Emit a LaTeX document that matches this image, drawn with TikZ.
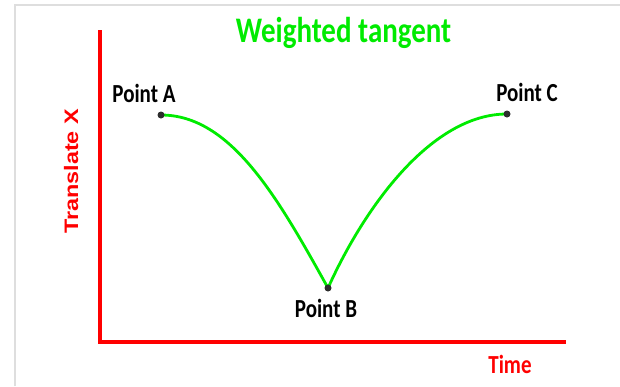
\documentclass[tikz,border=0pt]{standalone}
\usepackage{fontspec}
\setmainfont{Carlito}
\newfontfamily\axfont{Liberation Sans}
\definecolor{curvegreen}{RGB}{0,235,0}
\definecolor{axisred}{RGB}{255,0,0}
\definecolor{dotgray}{RGB}{45,45,45}
\definecolor{framegray}{RGB}{222,222,222}
\newcommand{\tall}[1]{\scalebox{1}[1.24]{#1}}

\begin{document}
\begin{tikzpicture}[x=1pt,y=-1pt,
  ptdot/.style={circle,fill=dotgray,inner sep=0pt,minimum size=7pt},
  ptlabel/.style={anchor=base,inner sep=0pt,font=\bfseries\fontsize{21}{21}\selectfont},
  axisline/.style={axisred,line width=4.5pt},
  tangentline/.style={curvegreen,line width=2.8pt}]
\useasboundingbox (0,0) rectangle (620,386);
\draw[framegray,line width=1.5pt] (15,386) -- (15,5) -- (620,5);

\node[ptlabel,text=curvegreen,font=\bfseries\fontsize{29}{29}\selectfont] (title) at (343.5,42) {\tall{Weighted tangent}};

% axes
\coordinate (ytop) at (100,30);
\coordinate (orig) at (100,342);
\coordinate (xend) at (566,342);
\draw[axisline] (ytop) -- (orig) -- (xend);

\node[rotate=90,anchor=base,inner sep=0pt,text=axisred,font=\axfont\bfseries\fontsize{19.5}{19.5}\selectfont] (transx) at (78,171.5) {\scalebox{1.2}[1]{Translate X}};
\node[ptlabel,text=axisred] (time) at (510,373) {\tall{Time}};

% weighted curve
\coordinate (a) at (161,115);
\coordinate (b) at (328,288);
\coordinate (c) at (507,114);
\draw[tangentline] (a) .. controls (231,115) and (278,198) .. (b)
  .. controls (365,206) and (432,114) .. (c);

\node[ptdot] (dotA) at (a) {};
\node[ptdot] (dotB) at (b) {};
\node[ptdot] (dotC) at (c) {};

\node[ptlabel] (labA) at (144,102) {\tall{Point A}};
\node[ptlabel] (labB) at (326,317) {\tall{Point B}};
\node[ptlabel] (labC) at (527,101) {\tall{Point C}};
\end{tikzpicture}
\end{document}
